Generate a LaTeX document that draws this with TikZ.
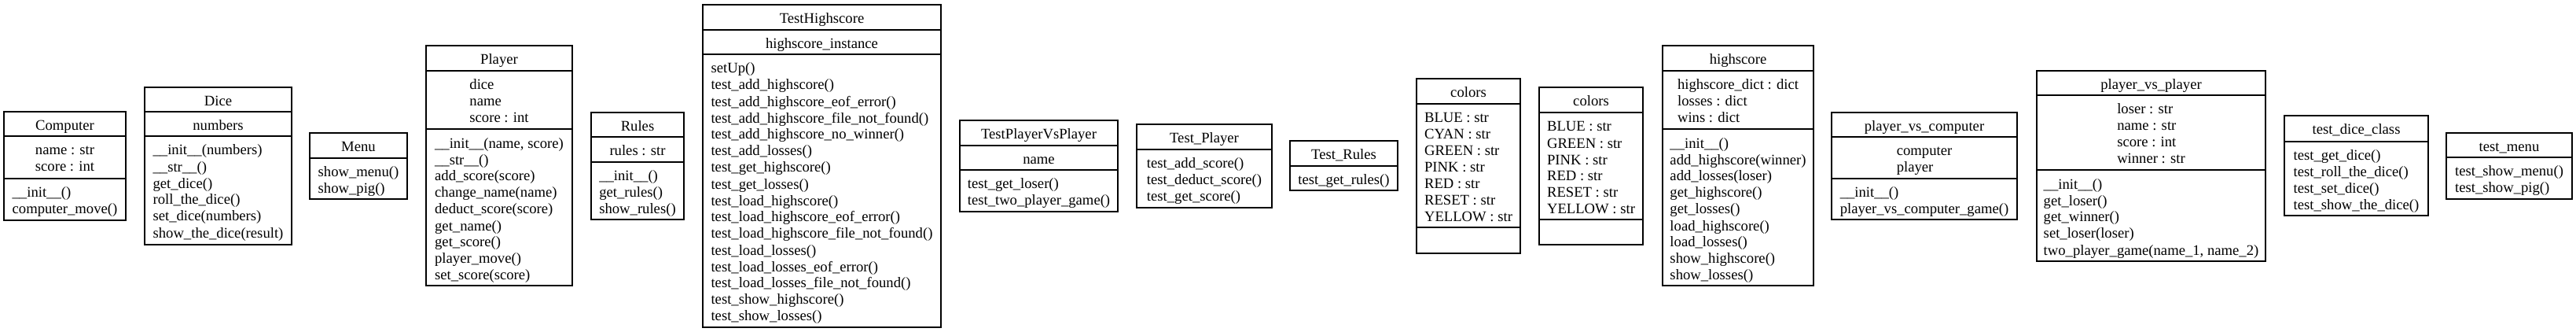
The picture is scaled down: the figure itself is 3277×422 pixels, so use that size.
\documentclass[tikz,border=0pt]{standalone}
\usepackage{fontspec}
\setmainfont{Liberation Serif}
\tikzset{
  boxline/.style={draw=black,line width=0.65pt},
  txt/.style={inner sep=0pt,outer sep=0pt,anchor=north,align=left,font=\fontsize{9.33pt}{10.5pt}\selectfont}
}
\newcommand\cbox[4]{\draw[boxline] (#1,#3) rectangle (#2,#4);}
\newcommand\csep[3]{\draw[boxline] (#1,#3) -- (#2,#3);}
\newcommand\ctext[5]{\node[txt] (#1) at ({(#2+#3)/2},{#4+9.3}) {\strut#5};}
\begin{document}
\begin{tikzpicture}[x=0.5pt,y=-0.5pt]
\useasboundingbox (0,0) rectangle (3277,422);
% Computer
\cbox{5}{160}{142}{280}\csep{5}{160}{173}\csep{5}{160}{227}
\ctext{computer-t}{5}{160}{142}{Computer}
\ctext{computer-a}{5}{160}{173}{name : str\\score : int}
\ctext{computer-m}{5}{160}{227}{\_\_init\_\_()\\computer\_move()}
% Dice
\cbox{184}{371}{111}{311}\csep{184}{371}{142}\csep{184}{371}{173}
\ctext{dice-t}{184}{371}{111}{Dice}
\ctext{dice-a}{184}{371}{142}{numbers}
\ctext{dice-m}{184}{371}{173}{\_\_init\_\_(numbers)\\\_\_str\_\_()\\get\_dice()\\roll\_the\_dice()\\set\_dice(numbers)\\show\_the\_dice(result)}
% Menu
\cbox{394}{518}{169}{253}\csep{394}{518}{201}
\ctext{menu-t}{394}{518}{169}{Menu}
\ctext{menu-m}{394}{518}{201}{show\_menu()\\show\_pig()}
% Player
\cbox{542}{728}{58}{363}\csep{542}{728}{90}\csep{542}{728}{164}
\ctext{player-t}{542}{728}{58}{Player}
\ctext{player-a}{542}{728}{90}{dice\\name\\score : int}
\ctext{player-m}{542}{728}{164}{\_\_init\_\_(name, score)\\\_\_str\_\_()\\add\_score(score)\\change\_name(name)\\deduct\_score(score)\\get\_name()\\get\_score()\\player\_move()\\set\_score(score)}
% Rules
\cbox{752}{870}{143}{279}\csep{752}{870}{174}\csep{752}{870}{206}
\ctext{rules-t}{752}{870}{143}{Rules}
\ctext{rules-a}{752}{870}{174}{rules : str}
\ctext{rules-m}{752}{870}{206}{\_\_init\_\_()\\get\_rules()\\show\_rules()}
% TestHighscore
\cbox{894}{1197}{6}{416}\csep{894}{1197}{38}\csep{894}{1197}{69}
\ctext{ths-t}{894}{1197}{6}{TestHighscore}
\ctext{ths-a}{894}{1197}{38}{highscore\_instance}
\ctext{ths-m}{894}{1197}{69}{setUp()\\test\_add\_highscore()\\test\_add\_highscore\_eof\_error()\\test\_add\_highscore\_file\_not\_found()\\test\_add\_highscore\_no\_winner()\\test\_add\_losses()\\test\_get\_highscore()\\test\_get\_losses()\\test\_load\_highscore()\\test\_load\_highscore\_eof\_error()\\test\_load\_highscore\_file\_not\_found()\\test\_load\_losses()\\test\_load\_losses\_eof\_error()\\test\_load\_losses\_file\_not\_found()\\test\_show\_highscore()\\test\_show\_losses()}
% TestPlayerVsPlayer
\cbox{1221}{1422}{153}{269}\csep{1221}{1422}{185}\csep{1221}{1422}{216}
\ctext{tpvp-t}{1221}{1422}{153}{TestPlayerVsPlayer}
\ctext{tpvp-a}{1221}{1422}{185}{name}
\ctext{tpvp-m}{1221}{1422}{216}{test\_get\_loser()\\test\_two\_player\_game()}
% Test_Player
\cbox{1446}{1618}{158}{264}\csep{1446}{1618}{190}
\ctext{tp-t}{1446}{1618}{158}{Test\_Player}
\ctext{tp-m}{1446}{1618}{190}{test\_add\_score()\\test\_deduct\_score()\\test\_get\_score()}
% Test_Rules
\cbox{1641}{1778}{179}{242}\csep{1641}{1778}{211}
\ctext{tr-t}{1641}{1778}{179}{Test\_Rules}
\ctext{tr-m}{1641}{1778}{211}{test\_get\_rules()}
% colors 1
\cbox{1802}{1934}{100}{322}\csep{1802}{1934}{132}\csep{1802}{1934}{289}
\ctext{col1-t}{1802}{1934}{100}{colors}
\ctext{col1-a}{1802}{1934}{132}{BLUE : str\\CYAN : str\\GREEN : str\\PINK : str\\RED : str\\RESET : str\\YELLOW : str}
% colors 2
\cbox{1958}{2090}{111}{311}\csep{1958}{2090}{143}\csep{1958}{2090}{279}
\ctext{col2-t}{1958}{2090}{111}{colors}
\ctext{col2-a}{1958}{2090}{143}{BLUE : str\\GREEN : str\\PINK : str\\RED : str\\RESET : str\\YELLOW : str}
% highscore
\cbox{2115}{2307}{58}{363}\csep{2115}{2307}{90}\csep{2115}{2307}{164}
\ctext{hs-t}{2115}{2307}{58}{highscore}
\ctext{hs-a}{2115}{2307}{90}{highscore\_dict : dict\\losses : dict\\wins : dict}
\ctext{hs-m}{2115}{2307}{164}{\_\_init\_\_()\\add\_highscore(winner)\\add\_losses(loser)\\get\_highscore()\\get\_losses()\\load\_highscore()\\load\_losses()\\show\_highscore()\\show\_losses()}
% player_vs_computer
\cbox{2330}{2566}{143}{279}\csep{2330}{2566}{174}\csep{2330}{2566}{227}
\ctext{pvc-t}{2330}{2566}{143}{player\_vs\_computer}
\ctext{pvc-a}{2330}{2566}{174}{computer\\player}
\ctext{pvc-m}{2330}{2566}{227}{\_\_init\_\_()\\player\_vs\_computer\_game()}
% player_vs_player
\cbox{2591}{2882}{90}{332}\csep{2591}{2882}{121}\csep{2591}{2882}{216}
\ctext{pvp-t}{2591}{2882}{90}{player\_vs\_player}
\ctext{pvp-a}{2591}{2882}{121}{loser : str\\name : str\\score : int\\winner : str}
\ctext{pvp-m}{2591}{2882}{216}{\_\_init\_\_()\\get\_loser()\\get\_winner()\\set\_loser(loser)\\two\_player\_game(name\_1, name\_2)}
% test_dice_class
\cbox{2906}{3089}{147}{274}\csep{2906}{3089}{180}
\ctext{tdc-t}{2906}{3089}{147}{test\_dice\_class}
\ctext{tdc-m}{2906}{3089}{180}{test\_get\_dice()\\test\_roll\_the\_dice()\\test\_set\_dice()\\test\_show\_the\_dice()}
% test_menu
\cbox{3112}{3272}{169}{253}\csep{3112}{3272}{200}
\ctext{tm-t}{3112}{3272}{169}{test\_menu}
\ctext{tm-m}{3112}{3272}{200}{test\_show\_menu()\\test\_show\_pig()}
\end{tikzpicture}
\end{document}
